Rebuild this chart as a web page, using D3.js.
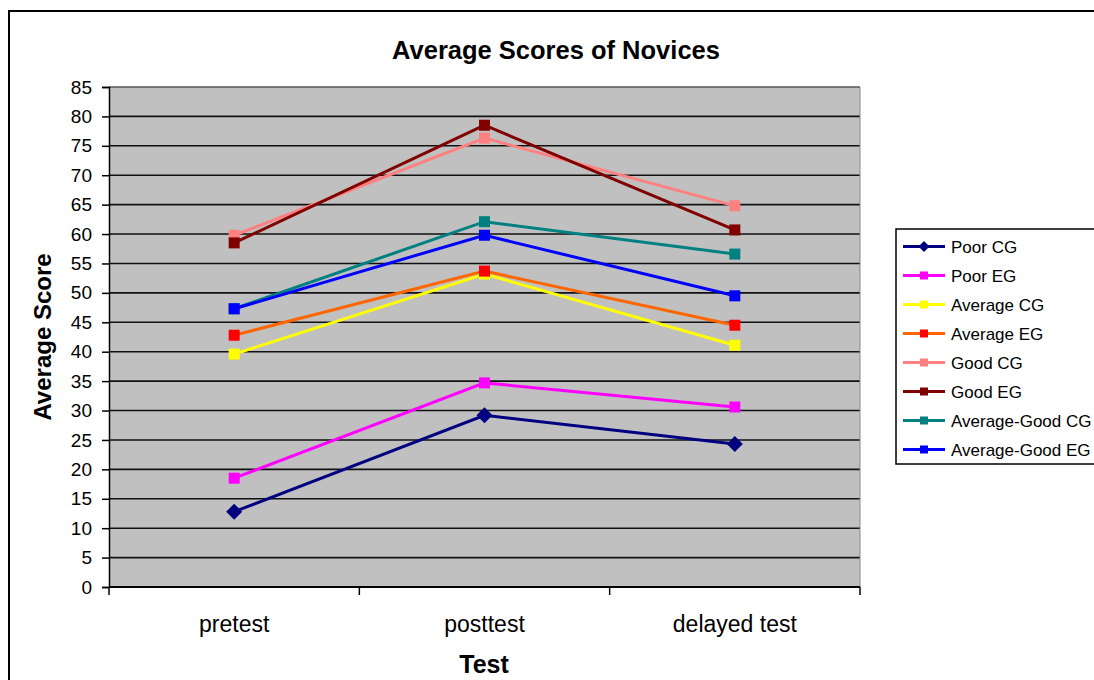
<!DOCTYPE html>
<html><head><meta charset="utf-8">
<script src="https://cdn.jsdelivr.net/npm/d3@7"></script>
<style>body{margin:0;background:#fff}svg{display:block;font-family:Arial,"Liberation Sans",sans-serif}</style>
</head><body><svg id="c" width="1094" height="680"></svg>
<script>
const categories = ["pretest", "posttest", "delayed test"];
const seriesNames = ["Poor CG","Poor EG","Average CG","Average EG","Good CG","Good EG","Average-Good CG","Average-Good EG"];
const poorCG = [12.8, 29.2, 24.3];
const poorEG = [18.5, 34.7, 30.6];
const averageCG = [39.6, 53.2, 41.1];
const averageEG = [42.8, 53.7, 44.5];
const goodCG = [59.8, 76.3, 64.8];
const goodEG = [58.5, 78.5, 60.7];
const avgGoodCG = [47.3, 62.1, 56.6];
const avgGoodEG = [47.3, 59.8, 49.5];
const yTicks = d3.range(0, 90, 5);

const lineColors = ["#000080","#FF00FF","#FFFF00","#FF6600","#FF8080","#800000","#008080","#0000FF"];
const markerColors = ["#000080","#FF00FF","#FFFF00","#FF0000","#FF8080","#800000","#008080","#0000FF"];
const values = [poorCG, poorEG, averageCG, averageEG, goodCG, goodEG, avgGoodCG, avgGoodEG];
const series = seriesNames.map((n,i)=>({name:n, values:values[i], line:lineColors[i], marker:markerColors[i], diamond:i===0}));

const svg = d3.select("#c");
svg.append("rect").attr("x",9).attr("y",11).attr("width",1100).attr("height",700)
  .attr("fill","#fff").attr("stroke","#000").attr("stroke-width",2);

const L=109, R=860, T=87, B=587;
const x = d3.scaleBand().domain(categories).range([L,R]);
const y = d3.scaleLinear().domain([0,85]).range([B,T]);

svg.append("rect").attr("x",L).attr("y",T).attr("width",R-L).attr("height",B-T).attr("fill","#C0C0C0");
svg.append("g").selectAll("line").data(yTicks.filter(d=>d>0)).join("line")
  .attr("x1",L).attr("x2",R).attr("y1",d=>y(d)).attr("y2",d=>y(d))
  .attr("stroke",d=>d===85?"#555":"#111").attr("stroke-width",1.6);
svg.append("line").attr("x1",R).attr("x2",R).attr("y1",T).attr("y2",B).attr("stroke","#888").attr("stroke-width",1);

const ya = svg.append("g").attr("transform",`translate(${L},0)`)
  .call(d3.axisLeft(y).tickValues(yTicks).tickSize(7).tickPadding(10));
ya.select(".domain").attr("stroke","#000").attr("stroke-width",1.5);
ya.selectAll(".tick line").attr("stroke","#000").attr("stroke-width",1.5);
ya.selectAll("text").attr("font-size",19).attr("fill","#000");

const xa = svg.append("g").attr("transform",`translate(0,${B})`)
  .call(d3.axisBottom(x).tickSize(0).tickPadding(29));
xa.select(".domain").remove();
xa.selectAll("text").attr("font-size",23).attr("fill","#000");
svg.append("line").attr("x1",L).attr("x2",R).attr("y1",B).attr("y2",B).attr("stroke","#000").attr("stroke-width",2);
const bounds = categories.map(c=>x(c)).concat([R]);
svg.append("g").selectAll("line").data(bounds).join("line")
  .attr("x1",d=>d).attr("x2",d=>d).attr("y1",B).attr("y2",B+8).attr("stroke","#000").attr("stroke-width",1.5);

const cx = c => x(c)+x.bandwidth()/2;
const line = d3.line().x((d,i)=>cx(categories[i])).y(d=>y(d));
const g = svg.append("g");
series.forEach(s=>{
  g.append("path").attr("d",line(s.values)).attr("fill","none").attr("stroke",s.line).attr("stroke-width",3);
  s.values.forEach((v,i)=>{
    const px=cx(categories[i]), py=y(v);
    if(s.diamond){
      g.append("path").attr("d",`M${px},${py-8}L${px+8},${py}L${px},${py+8}L${px-8},${py}Z`).attr("fill",s.marker);
    } else {
      g.append("rect").attr("x",px-5.5).attr("y",py-5.5).attr("width",11).attr("height",11).attr("fill",s.marker);
    }
  });
});

svg.append("text").attr("x",556).attr("y",59).attr("text-anchor","middle").attr("font-size",25.5).attr("font-weight","bold").text("Average Scores of Novices");
svg.append("text").attr("x",484).attr("y",673).attr("text-anchor","middle").attr("font-size",25).attr("font-weight","bold").text("Test");
svg.append("text").attr("transform","translate(51,337) rotate(-90)").attr("text-anchor","middle").attr("font-size",24).attr("font-weight","bold").text("Average Score");

const lg = svg.append("g");
lg.append("rect").attr("x",896).attr("y",229).attr("width",220).attr("height",235).attr("fill","#fff").attr("stroke","#000").attr("stroke-width",1.5);
series.forEach((s,i)=>{
  const ly = 246.5 + i*29;
  lg.append("line").attr("x1",903).attr("x2",945).attr("y1",ly).attr("y2",ly).attr("stroke",s.line).attr("stroke-width",3);
  if(s.diamond){
    lg.append("path").attr("d",`M924,${ly-5.5}L929.5,${ly}L924,${ly+5.5}L918.5,${ly}Z`).attr("fill",s.marker);
  } else {
    lg.append("rect").attr("x",920).attr("y",ly-4).attr("width",8).attr("height",8).attr("fill",s.marker);
  }
  lg.append("text").attr("x",951).attr("y",ly+6).attr("font-size",17).attr("fill","#000").text(s.name);
});
</script></body></html>
